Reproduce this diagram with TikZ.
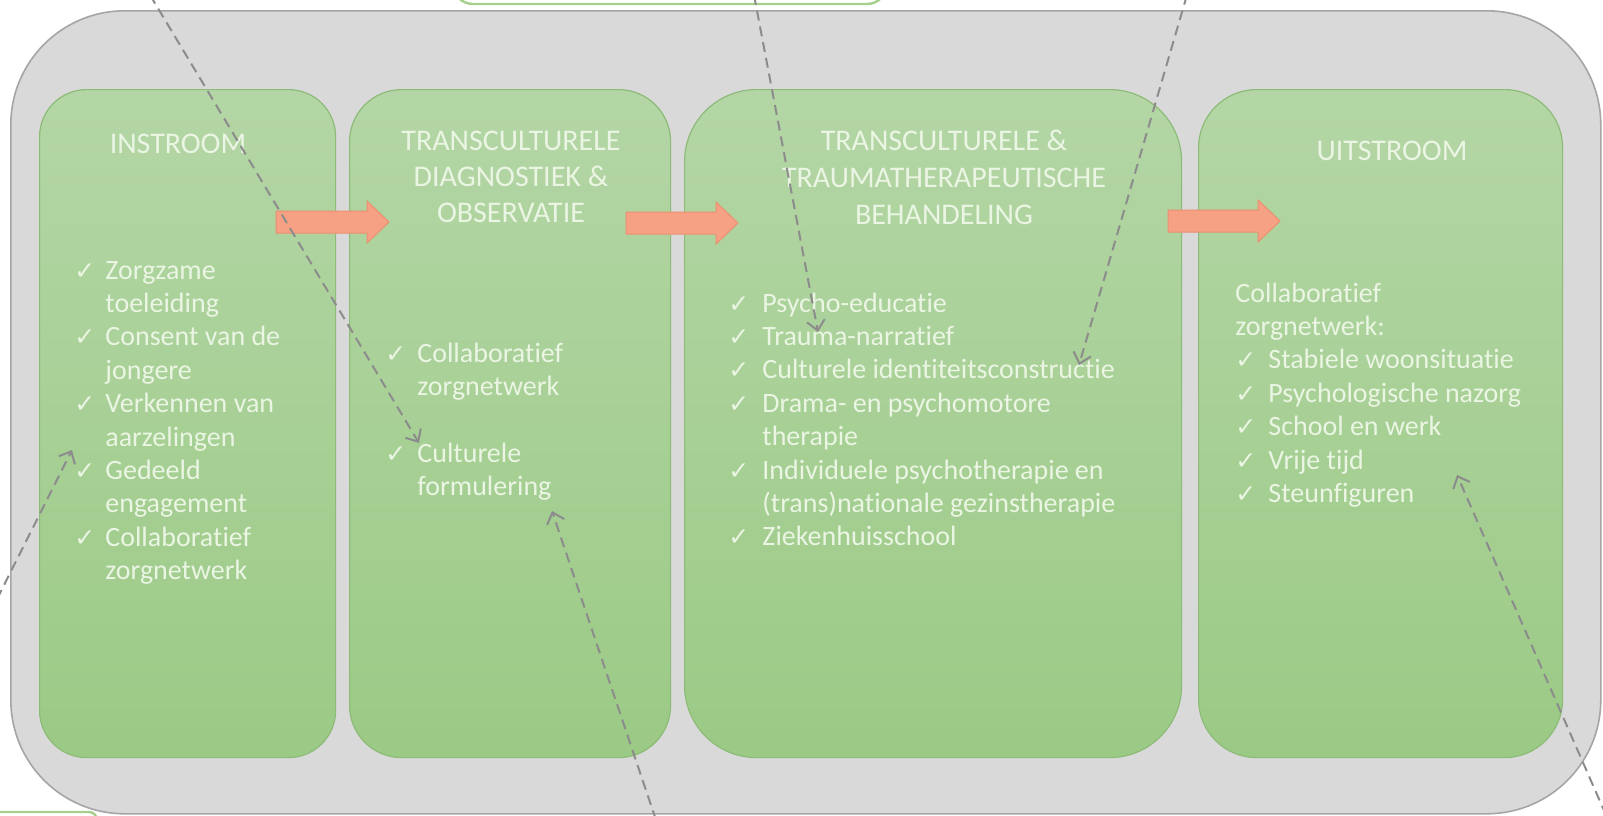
\documentclass[tikz,border=0pt]{standalone}
\usepackage{fontspec}
\setmainfont{Carlito}[Ligatures=NoCommon]
\newfontfamily\symfont{DejaVu Sans}
\usetikzlibrary{arrows.meta}
\definecolor{bggray}{HTML}{D9D9D9}
\definecolor{bgedge}{HTML}{A5A5A5}
\definecolor{gtop}{HTML}{B4D6A6}
\definecolor{gbot}{HTML}{9BCA85}
\definecolor{gedge}{HTML}{8DBB78}
\definecolor{txt}{HTML}{EAF5E3}
\definecolor{arrfill}{HTML}{F7A184}
\definecolor{arredge}{HTML}{EB9071}
\definecolor{dashc}{HTML}{8C8C8C}
\definecolor{topedge}{HTML}{A6CF8C}
\newcommand{\chk}{{\symfont\fontsize{12.5}{14}\selectfont ✓}}
\newcommand{\tI}{t\kern0pt i}
\newcommand{\fI}{f\kern0pt i}
\newcommand{\fatarr}[3]{%
  \path[fatarrow] (#1,#3-11) -- (#2-22,#3-11) -- (#2-22,#3-21) -- (#2,#3)
    -- (#2-22,#3+21) -- (#2-22,#3+11) -- (#1,#3+11) -- cycle;}
\begin{document}
\begin{tikzpicture}[x=0.5pt,y=-0.5pt,
  phase/.style={draw=gedge, line width=0.6pt, top color=gtop, bottom color=gbot,
    anchor=north west, inner sep=0pt, minimum height=334pt},
  hdr/.style={text=txt, inner sep=0pt, anchor=base},
  lst/.style={text=txt, inner sep=0pt, anchor=base west, font=\fontsize{14}{16.7}\selectfont},
  fatarrow/.style={fill=arrfill, draw=arredge, line width=0.5pt},
  link/.style={draw=dashc, line width=1pt, dash pattern=on 5pt off 3pt,
    -{Straight Barb[length=5pt,width=9pt]}}]
\useasboundingbox (0,0) rectangle (1603,815);
\clip (0,0) rectangle (1603,815);
% partially visible neighbours
\draw[topedge, line width=1.2pt, fill=white, rounded corners=10pt] (453,-60) rectangle (887,4);
\draw[topedge, line width=1.2pt, fill=white, rounded corners=4pt] (-60,812) rectangle (97,900);
% background
\node[fill=bggray, draw=bgedge, line width=0.8pt, rounded corners=57pt, anchor=north west,
  inner sep=0pt, minimum width=795pt, minimum height=401.5pt] (bg) at (10,10) {};
% phases
\node[phase, rounded corners=23.5pt, minimum width=148pt] (b1) at (39,89) {};
\node[phase, rounded corners=26pt, minimum width=160.5pt] (b2) at (349,89) {};
\node[phase, rounded corners=36pt, minimum width=248.5pt] (b3) at (684,89) {};
\node[phase, rounded corners=29pt, minimum width=182pt] (b4) at (1198,89) {};
% headers
\node[hdr, font=\fontsize{15}{18}\selectfont] (h1) at (178,153) {INSTROOM};
\node[hdr, font=\fontsize{15}{18}\selectfont] (h2) at (511,150)
  {\begin{tabular}[t]{@{}c@{}}TRANSCULTURELE\\DIAGNOSTIEK \&\\OBSERVATIE\end{tabular}};
\node[hdr, font=\fontsize{15}{18.7}\selectfont] (h3) at (944,150)
  {\begin{tabular}[t]{@{}c@{}}TRANSCULTURELE \&\\TRAUMATHERAPEUTISCHE\\BEHANDELING\end{tabular}};
\node[hdr, font=\fontsize{15}{18}\selectfont] (h4) at (1392,160) {UITSTROOM};
% lists
\node[lst] (l1) at (74,279) {\begin{tabular}[t]{@{}p{15.5pt}@{}l@{}}
  \chk & Zorgzame\\ & toeleiding\\ \chk & Consent van de\\ & jongere\\
  \chk & Verkennen van\\ & aarzelingen\\ \chk & Gedeeld\\ & engagement\\
  \chk & Collabora\tI ef\\ & zorgnetwerk\end{tabular}};
\node[lst] (l2) at (385,362) {\begin{tabular}[t]{@{}p{16pt}@{}l@{}}
  \chk & Collabora\tI ef\\ & zorgnetwerk\\ & \\ \chk & Culturele\\ & formulering\end{tabular}};
\node[lst] (l3) at (728,312) {\begin{tabular}[t]{@{}p{17pt}@{}l@{}}
  \chk & Psycho-educa\tI e\\ \chk & Trauma-narra\tI ef\\ \chk & Culturele iden\tI teitsconstruc\tI e\\
  \chk & Drama- en psychomotore\\ & therapie\\ \chk & Individuele psychotherapie en\\
  & (trans)na\tI onale gezinstherapie\\ \chk & Ziekenhuisschool\end{tabular}};
\node[lst] (l4) at (1235,302) {\begin{tabular}[t]{@{}p{16.5pt}@{}l@{}}
  \multicolumn{2}{@{}l@{}}{Collabora\tI ef}\\ \multicolumn{2}{@{}l@{}}{zorgnetwerk:}\\
  \chk & Stabiele woonsitua\tI e\\ \chk & Psychologische nazorg\\ \chk & School en werk\\
  \chk & Vrije tijd\\ \chk & Steun\fI guren\end{tabular}};
% flow arrows
\fatarr{276}{389}{222}
\fatarr{626}{738}{223}
\fatarr{1168}{1280}{221}
% dashed pointers
\coordinate (s1) at (150,-5);   \coordinate (t1) at (419,443);
\coordinate (s2) at (754,-5);   \coordinate (t2) at (818,332);
\coordinate (s3) at (1187,-5);  \coordinate (t3) at (1079,365);
\coordinate (s4) at (-3,599);   \coordinate (t4) at (72,450);
\coordinate (s5) at (656,820);  \coordinate (t5) at (552,511);
\coordinate (s6) at (1606,815); \coordinate (t6) at (1457,475);
\draw[link] (s1) -- (t1);
\draw[link] (s2) -- (t2);
\draw[link] (s3) -- (t3);
\draw[link] (s4) -- (t4);
\draw[link] (s5) -- (t5);
\draw[link] (s6) -- (t6);
\end{tikzpicture}
\end{document}
